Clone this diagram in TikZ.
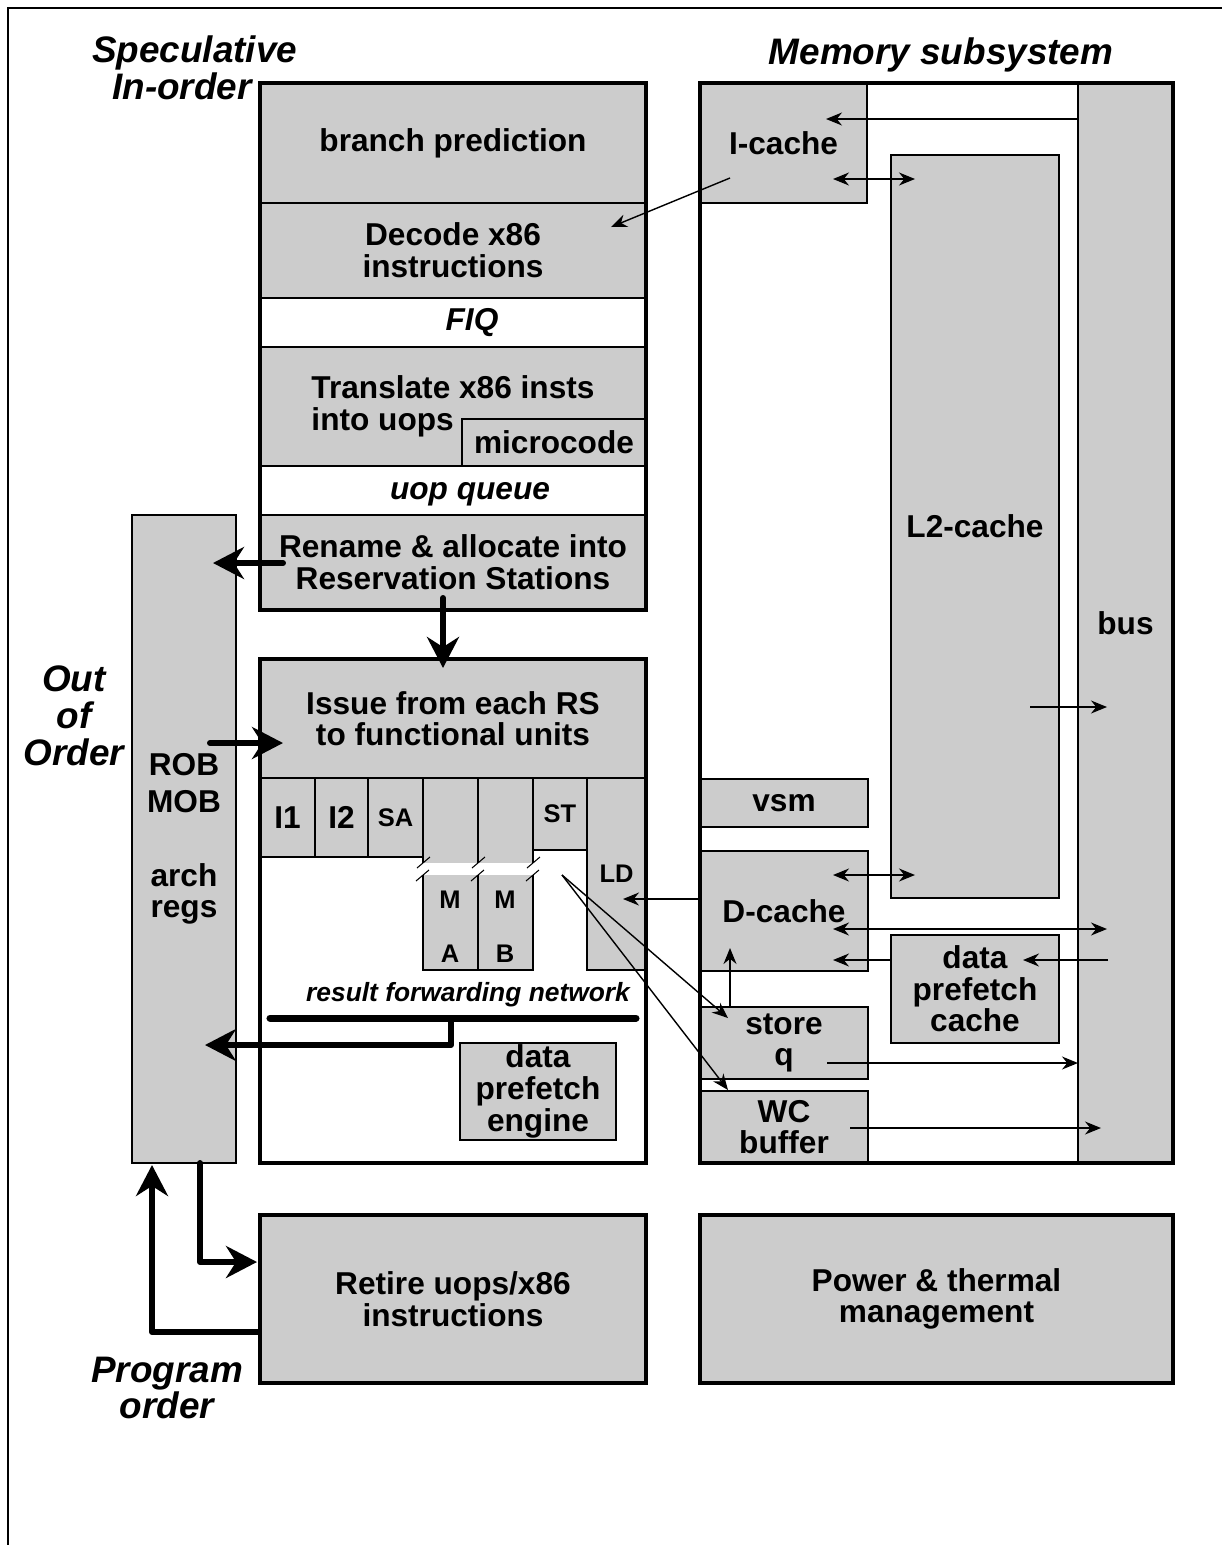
\documentclass[tikz,border=0pt]{standalone}
\usepackage{fontspec}
\setmainfont{Liberation Sans}
\usepackage{tikz}
\usetikzlibrary{positioning, arrows.meta}
\definecolor{boxgray}{HTML}{CCCCCC}

\begin{document}
\begin{tikzpicture}[
        x=0.02cm, y=-0.02cm,
        blk/.style={rectangle,draw,fill=boxgray,line width=0.8pt,inner sep=0pt,outer sep=0pt,
          align=center,font=\bfseries\fontsize{18}{18}\selectfont},
        slot/.style={blk,fill=white,font=\bfseries\itshape\fontsize{18}{18}\selectfont},
        unit/.style={blk,font=\bfseries\fontsize{14.5}{14.5}\selectfont},
        tag/.style={align=center,font=\bfseries\fontsize{14.5}{14.5}\selectfont},
        stage/.style={blk,line width=2.5pt},
        sz/.style 2 args={minimum width=#1*0.02cm,minimum height=#2*0.02cm},
        outline/.style={line width=2.5pt},
        heading/.style={align=center,font=\bfseries\itshape\fontsize{21}{21}\selectfont},
        fat/.style={line width=3.4pt,line cap=round,line join=round,-{Stealth[length=0.62cm,width=0.64cm]}},
        link/.style={line width=0.8pt,-{Stealth[length=0.32cm,width=0.26cm]}},
        both/.style={line width=0.8pt,{Stealth[length=0.32cm,width=0.26cm]}-{Stealth[length=0.32cm,width=0.26cm]}}
      ]
      \useasboundingbox (0,0) rectangle (1222,1545);
      \draw[line width=1.1pt] (8,1545) -- (8,8) -- (1222,8);

      \node[heading, align=left, anchor=west] (spec) at (86,68) {Speculative\\\hspace*{0.4cm}In-order};
      \node[heading] (mem) at (941,55) {Memory subsystem};
      \node[heading] (ooo) at (74,716) {Out\\of\\Order};
      \node[heading] (prog) at (167,1388) {Program\\order};

      \node[blk, sz={104}{648}, anchor=north west] (rob) at (132,515) {ROB\\[0.1cm]MOB\\[0.84cm]arch\\regs};

      \node[blk, sz={386}{120}, anchor=north west] (bp) at (260,83) {branch prediction};
      \node[blk, sz={386}{95}, below=0pt of bp] (dec) {Decode x86\\instructions};
      \node[slot, sz={386}{49}, below=0pt of dec] (fiq) {\hspace*{0.76cm}FIQ};
      \node[blk, sz={386}{119}, below=0pt of fiq, align=left] (tr) {Translate x86 insts\\into uops};
      \node[blk, sz={184}{47}, anchor=south east] (mc) at (tr.south east) {microcode};
      \node[slot, sz={386}{49}, below=0pt of tr, text height=0.4cm, text depth=0.04cm] (uq) {\hspace*{0.68cm}uop queue};
      \node[blk, sz={386}{95}, below=0pt of uq] (ren) {Rename \& allocate into\\Reservation Stations};
      \draw[outline] (bp.north west) rectangle (ren.south east);

      \node[blk, sz={386}{119}, anchor=north west] (iss) at (260,659) {Issue from each RS\\to functional units};
      \node[blk, sz={55}{79}, anchor=north west] (i1) at (iss.south west) {I1};
      \node[blk, sz={53}{79}, anchor=north west] (i2) at (i1.north east) {I2};
      \node[unit, sz={55}{79}, anchor=north west] (sa) at (i2.north east) {SA};
      \node[unit, sz={55}{192}, anchor=north west] (ma) at (sa.north east) {};
      \node[unit, sz={55}{192}, anchor=north west] (mb) at (ma.north east) {};
      \node[unit, sz={54}{72}, anchor=north west] (st) at (mb.north east) {ST};
      \node[unit, sz={59}{192}, anchor=north west] (ld) at (st.north east) {LD};
      \fill[white] (416,863) rectangle (540,875);
      \draw[line width=0.6pt] (417,868) -- (430,857) (416,881) -- (429,870);
      \draw[line width=0.6pt] (472,868) -- (485,857) (471,881) -- (484,870);
      \draw[line width=0.6pt] (527,868) -- (540,857) (526,881) -- (539,870);
      \node[tag] (matx) at (450,927) {M\\[0.57cm]A};
      \node[tag] (mbtx) at (505,927) {M\\[0.57cm]B};
      \node[font=\bfseries\itshape\fontsize{15}{15}\selectfont] (rfn) at (468,995) {result forwarding network};
      \node[blk, sz={156}{97}, anchor=north west] (dpe) at (460,1043) {data\\prefetch\\engine};
      \draw[outline] (iss.north west) rectangle (646,1163);

      \node[stage, sz={386}{168}, anchor=north west] (ret) at (260,1215) {Retire uops/x86\\instructions};
      \node[stage, sz={473}{168}, anchor=north west] (pwr) at (700,1215) {Power \& thermal\\management};

      \node[blk, sz={167}{120}, anchor=north west] (ic) at (700,83) {I-cache};
      \node[blk, sz={95}{1080}, anchor=north west] (bus) at (1078,83) {bus};
      \node[blk, sz={168}{743}, anchor=north west] (l2) at (891,155) {L2-cache};
      \node[blk, sz={168}{48}, anchor=north west] (vsm) at (700,779) {vsm};
      \node[blk, sz={168}{120}, anchor=north west] (dc) at (700,851) {D-cache};
      \node[blk, sz={168}{108}, anchor=north west] (dpc) at (891,935) {data\\prefetch\\cache};
      \node[blk, sz={168}{72}, anchor=north west] (sq) at (700,1007) {store\\q};
      \node[blk, sz={168}{72}, anchor=north west] (wc) at (700,1091) {WC\\buffer};
      \draw[outline] (ic.north west) rectangle (bus.south east);

      \coordinate (icIn) at (826,119);
      \coordinate (icA) at (833,179);
      \coordinate (l2A) at (915,179);
      \coordinate (icOut) at (730,178);
      \coordinate (decIn) at (611,227);
      \coordinate (dcA) at (833,875);
      \coordinate (l2B) at (915,875);
      \coordinate (dcB) at (833,929);
      \coordinate (busA) at (1107,929);
      \coordinate (dcIn) at (833,960);
      \coordinate (busOut) at (1108,960);
      \coordinate (dpcIn) at (1023,960);
      \coordinate (ldIn) at (623,899);
      \coordinate (dcUp) at (730,948);
      \coordinate (sqOut) at (827,1063);
      \coordinate (wcOut) at (850,1128);
      \coordinate (busB) at (1101,1128);
      \coordinate (stOut) at (562,875);
      \coordinate (sqIn) at (728,1018);
      \coordinate (wcIn) at (728,1090);
      \coordinate (l2Out) at (1030,707);
      \coordinate (busC) at (1107,707);
      \draw[link] (bus.west |- icIn) -- (icIn);
      \draw[both] (icA) -- (l2A);
      \draw[link] (icOut) -- (decIn);
      \draw[both] (dcA) -- (l2B);
      \draw[both] (dcB) -- (busA);
      \draw[link] (dpc.west |- dcIn) -- (dcIn);
      \draw[link] (busOut) -- (dpcIn);
      \draw[link] (dc.west |- ldIn) -- (ldIn);
      \draw[link] (sq.north -| dcUp) -- (dcUp);
      \draw[link] (sqOut) -- (bus.west |- sqOut);
      \draw[link] (wcOut) -- (busB);
      \draw[link] (stOut) -- (sqIn);
      \draw[link] (stOut) -- (wcIn);
      \draw[link] (l2Out) -- (busC);

      \coordinate (renOut) at (283,563);
      \coordinate (robA) at (213,563);
      \coordinate (renDn) at (443,598);
      \coordinate (issIn) at (443,668);
      \coordinate (robOut) at (210,743);
      \coordinate (issA) at (283,743);
      \coordinate (fwdA) at (270,1018);
      \coordinate (fwdB) at (636,1018);
      \coordinate (tap) at (451,1018);
      \coordinate (robB) at (205,1045);
      \coordinate (robDn) at (200,1163);
      \coordinate (retIn) at (257,1262);
      \coordinate (retOut) at (258,1332);
      \coordinate (robUp) at (152,1165);
      \draw[fat] (renOut) -- (robA);
      \draw[fat] (renDn) -- (issIn);
      \draw[fat] (robOut) -- (issA);
      \draw[line width=4pt, line cap=round] (fwdA) -- (fwdB);
      \draw[fat] (tap) |- (robB);
      \draw[fat] (robDn) |- (retIn);
      \draw[fat] (retOut) -| (robUp);
    \end{tikzpicture}
\end{document}
